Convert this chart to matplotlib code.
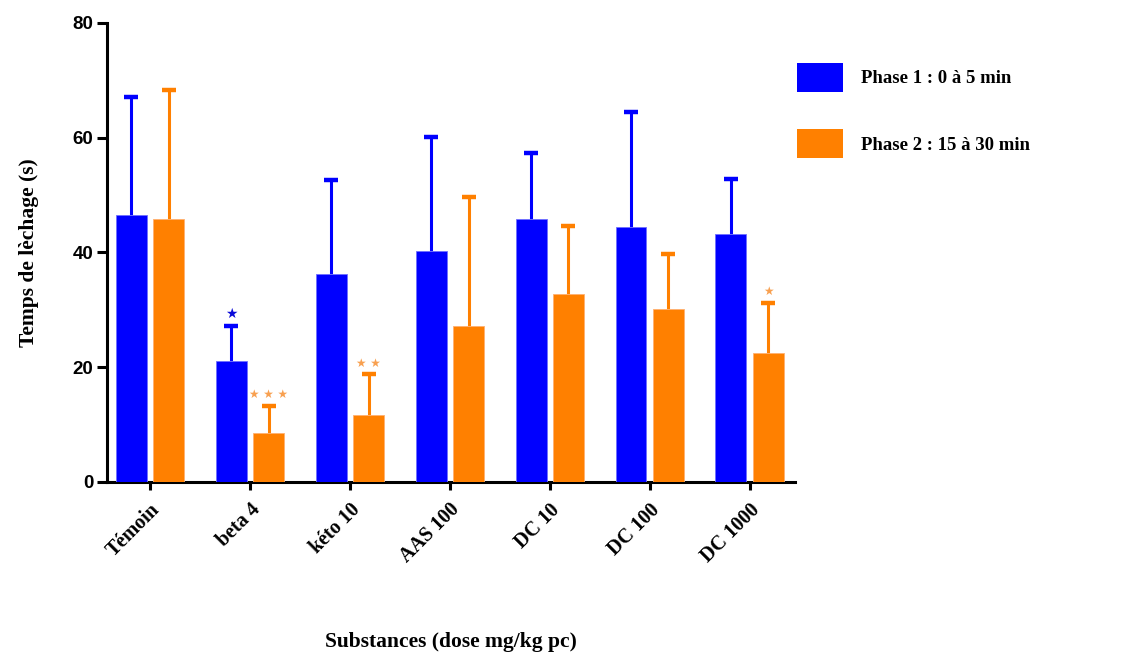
import numpy as np
import matplotlib
matplotlib.use('Agg')
import matplotlib.pyplot as plt
from matplotlib.patches import Patch

# Data
categories = ['Témoin', 'beta 4', 'kéto 10', 'AAS 100', 'DC 10', 'DC 100', 'DC 1000']
#   Phase 1 : 0 à 5 min
phase1_mean = [46.5, 21.1, 36.2, 40.2, 45.8, 44.5, 43.2]
phase1_err = [20.6, 6.0, 16.4, 20.0, 11.6, 20.0, 9.6]
#   Phase 2 : 15 à 30 min
phase2_mean = [45.8, 8.5, 11.6, 27.1, 32.8, 30.2, 22.5]
phase2_err = [22.5, 4.8, 7.2, 22.5, 11.9, 9.5, 8.7]
#   Significance marks
phase1_stars = ['', '★', '', '', '', '', '']
phase2_stars = ['', '★ ★ ★', '★ ★', '', '', '', '★']
series_names = ['Phase 1 : 0 à 5 min', 'Phase 2 : 15 à 30 min']

BLUE = '#0000FF'
ORANGE = '#FF8000'
SERIF = ['Liberation Serif', 'DejaVu Serif']


def upper_error(ax, xpos, mean, err, color):
    # Only the upper half of the error bar (line + cap), like Prism
    top = np.array(mean) + np.array(err)
    ax.vlines(xpos, mean, top, color=color, linewidth=2.2, zorder=2)
    ax.plot(xpos, top, linestyle='none', marker='_', markersize=9.5, markeredgewidth=3.2,
            color=color, zorder=2)


def main():
    fig = plt.figure(figsize=(11.4, 6.57), dpi=100)
    ax = fig.add_axes([0.0939, 0.2664, 0.6031, 0.6986])

    x = np.arange(len(categories))
    width = 0.31
    offset = 0.187

    # Bars
    ax.bar(x - offset, phase1_mean, width, color=BLUE, edgecolor='#6f6fff', linewidth=0.6, zorder=3)
    ax.bar(x + offset, phase2_mean, width, color=ORANGE, edgecolor='#ffb070', linewidth=0.6, zorder=3)

    # Upward error bars
    upper_error(ax, x - offset, phase1_mean, phase1_err, BLUE)
    upper_error(ax, x + offset, phase2_mean, phase2_err, ORANGE)

    # Significance stars
    for i in range(len(x)):
        if phase1_stars[i]:
            ax.text(x[i] - offset, phase1_mean[i] + phase1_err[i] + 1.0, phase1_stars[i],
                    color='#0a0ad8', fontsize=10, ha='center', va='bottom', family='DejaVu Sans')
        if phase2_stars[i]:
            ax.text(x[i] + offset, phase2_mean[i] + phase2_err[i] + 0.8, phase2_stars[i],
                    color='#f8a050', fontsize=8.5, ha='center', va='bottom', family='DejaVu Sans')

    # Axis limits
    ax.set_xlim(-0.43, 6.45)
    ax.set_ylim(0, 80)
    ax.set_yticks([0, 20, 40, 60, 80])
    ax.set_xticks(x)

    # Spines
    for s in ['top', 'right']:
        ax.spines[s].set_visible(False)
    for s in ['left', 'bottom']:
        ax.spines[s].set_linewidth(2.2)
    ax.tick_params(axis='y', length=7, width=2.2, pad=3)
    ax.tick_params(axis='x', length=6, width=2.2)

    # Tick labels
    ax.set_yticklabels(['0', '20', '40', '60', '80'], fontsize=13.5, fontweight='bold',
                       family=['Liberation Sans', 'DejaVu Sans'])
    ax.set_xticklabels(categories, rotation=45, ha='right', va='top', rotation_mode='anchor',
                       fontsize=14.5, fontweight='bold', family=SERIF)
    for lab in ax.get_xticklabels():
        lab.set_y(-0.01)

    # Labels
    ax.set_ylabel('Temps de lèchage (s)', fontsize=15.5, fontweight='bold', family=SERIF, labelpad=24)
    ax.set_xlabel('Substances (dose mg/kg pc)', fontsize=15.5, fontweight='bold', family=SERIF, labelpad=47)

    # Legend
    handles = [Patch(facecolor=BLUE, edgecolor='none'), Patch(facecolor=ORANGE, edgecolor='none')]
    fig.legend(handles, series_names, loc='upper left', bbox_to_anchor=(0.684, 0.93),
               frameon=False, handlelength=2.45, handleheight=2.0, labelspacing=2.0,
               handletextpad=1.0, prop={'family': SERIF, 'weight': 'bold', 'size': 13.5})

    fig.savefig('out.png', dpi=100)


if __name__ == '__main__':
    main()
